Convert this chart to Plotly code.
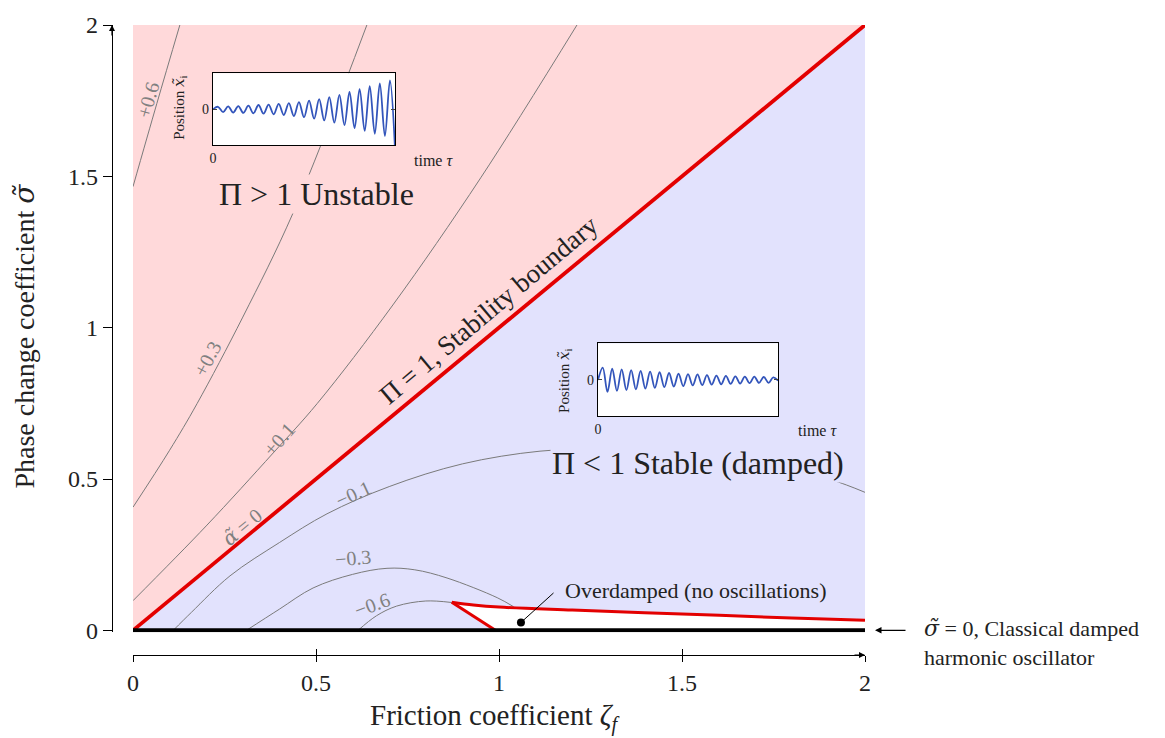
import plotly.graph_objects as go

# ---------------- data ----------------
tick_vals = [0, 0.5, 1, 1.5, 2]
tick_text = ["0", "0.5", "1", "1.5", "2"]

# stability boundary Pi = 1 (alpha = 0)
boundary_x = [0.0, 2.0]
boundary_y = [0.0, 2.0]

# alpha contours
c_p06_x = [0.0, 0.065, 0.128]
c_p06_y = [1.466, 1.74, 2.0]
c_p03_x = [0.0, 0.1, 0.175, 0.3, 0.437, 0.639]
c_p03_y = [0.407, 0.595, 0.749, 1.035, 1.378, 2.0]
c_p01_x = [0.0, 0.2, 0.383, 0.503, 0.71, 0.95, 1.213]
c_p01_y = [0.098, 0.345, 0.586, 0.749, 1.075, 1.495, 2.0]
c_m01_x = [0.11, 0.16, 0.265, 0.4, 0.53, 0.7, 0.9, 1.112, 1.3, 1.5, 1.7, 1.85, 1.95, 2.0]
c_m01_y = [0.0, 0.06, 0.18, 0.29, 0.385, 0.475, 0.55, 0.592, 0.6, 0.59, 0.565, 0.52, 0.48, 0.456]
c_m03_x = [0.31, 0.40, 0.492, 0.6, 0.694, 0.77, 0.858, 0.995, 1.04]
c_m03_y = [0.0, 0.07, 0.14, 0.185, 0.205, 0.2, 0.173, 0.108, 0.078]
c_m06_x = [0.615, 0.665, 0.72, 0.8, 0.871]
c_m06_y = [0.0, 0.048, 0.08, 0.097, 0.092]

# overdamped region boundary
od_upper_x = [0.871, 0.93, 1.0, 1.2, 1.5, 1.8, 2.0]
od_upper_y = [0.093, 0.084, 0.077, 0.067, 0.054, 0.041, 0.033]
od_lower_x = [0.871, 0.99]
od_lower_y = [0.093, 0.0]
od_dot_x = [1.06]
od_dot_y = [0.026]

# inset signals: successive extrema (half-cycle amplitudes) of the position
ins1_amp = [0, 0.07, -0.08, 0.08, -0.09, 0.09, -0.10, 0.10, -0.11, 0.12, -0.12, 0.13,
            -0.14, 0.15, -0.16, 0.17, -0.19, 0.20, -0.22, 0.24, -0.26, 0.28, -0.31,
            0.34, -0.37, 0.40, -0.44, 0.48, -0.52, 0.56, -0.60, 0.64, -0.68, 0.72,
            -0.74, 0.80, -1.10]
ins2_amp = [0, 0.34, -0.33, 0.31, -0.30, 0.29, -0.28, 0.27, -0.26, 0.25, -0.24, 0.23,
            -0.22, 0.21, -0.20, 0.19, -0.18, 0.17, -0.17, 0.16, -0.15, 0.15, -0.14,
            0.13, -0.13, 0.12, -0.12, 0.11, -0.11, 0.10, -0.10, 0.09, -0.09, 0.09,
            -0.08, 0.08, -0.08, 0.07, -0.02]

# ---------------- styling ----------------
FONT = "Liberation Serif"
PINK = "#FFD9DA"
BLUE = "#E2E2FD"
RED = "#E30000"
GRAY = "#7a7a7a"
LBL = "#808080"
SIG = "#3355bb"


def tl(s):
    """glyph with a combining tilde, rendered in a font that places it well"""
    return '<span style="font-family:DejaVu Serif">' + s + '</span>'


W, H = 1165, 738
ML, MR, MT, MB = 112, 300, 16, 83

fig = go.Figure()

# regions
fig.add_trace(go.Scatter(x=boundary_x + [boundary_x[0]], y=boundary_y + [boundary_y[-1]],
                         fill="toself", fillcolor=PINK, line=dict(width=0),
                         mode="lines", hoverinfo="skip"))
fig.add_trace(go.Scatter(x=boundary_x + [boundary_x[-1]], y=boundary_y + [boundary_y[0]],
                         fill="toself", fillcolor=BLUE, line=dict(width=0),
                         mode="lines", hoverinfo="skip"))
fig.add_trace(go.Scatter(x=od_upper_x + [od_upper_x[-1]] + od_lower_x[::-1],
                         y=od_upper_y + [0.0] + od_lower_y[::-1],
                         fill="toself", fillcolor="white", line=dict(width=0),
                         mode="lines", hoverinfo="skip"))

# contours
for cx, cy in [(c_p06_x, c_p06_y), (c_p03_x, c_p03_y), (c_p01_x, c_p01_y),
               (c_m01_x, c_m01_y), (c_m03_x, c_m03_y), (c_m06_x, c_m06_y)]:
    fig.add_trace(go.Scatter(x=cx, y=cy, mode="lines",
                             line=dict(color=GRAY, width=1, shape="spline", smoothing=1.0),
                             hoverinfo="skip"))

# stability boundary
fig.add_trace(go.Scatter(x=boundary_x, y=boundary_y, mode="lines",
                         line=dict(color=RED, width=3.8), hoverinfo="skip"))
# overdamped outline
fig.add_trace(go.Scatter(x=od_upper_x, y=od_upper_y, mode="lines",
                         line=dict(color=RED, width=3, shape="spline"), hoverinfo="skip"))
fig.add_trace(go.Scatter(x=od_lower_x, y=od_lower_y, mode="lines",
                         line=dict(color=RED, width=3), hoverinfo="skip"))
# sigma = 0 line
fig.add_trace(go.Scatter(x=[tick_vals[0], tick_vals[-1]], y=[0, 0], mode="lines",
                         line=dict(color="black", width=4), hoverinfo="skip"))
fig.add_trace(go.Scatter(x=od_dot_x, y=od_dot_y, mode="markers",
                         marker=dict(color="black", size=8), hoverinfo="skip"))

# helper trace for inside ticks on x axis
fig.add_trace(go.Scatter(x=[None], y=[None], xaxis="x2", yaxis="y", hoverinfo="skip"))

# insets
n1 = len(ins1_amp) - 1
n2 = len(ins2_amp) - 1
fig.add_trace(go.Scatter(x=[0, n1, n1, 0], y=[-1, -1, 1, 1], fill="toself",
                         fillcolor="rgba(255,255,255,0.82)", line=dict(width=0),
                         mode="lines", xaxis="x3", yaxis="y3", hoverinfo="skip"))
fig.add_trace(go.Scatter(x=list(range(len(ins1_amp))), y=ins1_amp, mode="lines",
                         line=dict(color=SIG, width=1.8, shape="spline", smoothing=1.0),
                         xaxis="x3", yaxis="y3", hoverinfo="skip"))
fig.add_trace(go.Scatter(x=[0, n2, n2, 0], y=[-1, -1, 1, 1], fill="toself",
                         fillcolor="rgba(255,255,255,0.82)", line=dict(width=0),
                         mode="lines", xaxis="x4", yaxis="y4", hoverinfo="skip"))
fig.add_trace(go.Scatter(x=list(range(len(ins2_amp))), y=ins2_amp, mode="lines",
                         line=dict(color=SIG, width=1.8, shape="spline", smoothing=1.0),
                         xaxis="x4", yaxis="y4", hoverinfo="skip"))

pw = W - ML - MR
ph = H - MT - MB
xdom0 = (133 - ML) / pw
ydom0 = (655 - 632) / ph

axis_common = dict(showgrid=False, zeroline=False, showline=True, linecolor="black",
                   linewidth=1.2, tickcolor="black", tickwidth=1.2,
                   tickfont=dict(family=FONT, size=24, color="#222"))

inset_common = dict(showgrid=False, zeroline=False, showline=True,
                    linecolor="black", linewidth=1.3,
                    tickfont=dict(family=FONT, size=14, color="#222"))

fig.update_layout(
    width=W, height=H,
    margin=dict(l=ML, r=MR, t=MT, b=MB),
    paper_bgcolor="white", plot_bgcolor="white",
    showlegend=False,
    xaxis=dict(domain=[xdom0, 1], range=[0, 2], anchor="free", position=0,
               ticks="outside", ticklen=6, tickvals=tick_vals, ticktext=tick_text,
               **axis_common),
    xaxis2=dict(overlaying="x", range=[0, 2], anchor="free", position=0,
                ticks="inside", ticklen=6, tickvals=tick_vals, showticklabels=False,
                showline=False, showgrid=False, zeroline=False, tickcolor="black",
                tickwidth=1.2),
    yaxis=dict(domain=[ydom0, 1], range=[-2 / 307, 2], anchor="free", position=0,
               ticks="outside", ticklen=9, tickvals=tick_vals, ticktext=tick_text,
               **axis_common),
    xaxis3=dict(domain=[(213 - ML) / pw, (395 - ML) / pw], range=[0, n1], anchor="y3",
                tickvals=[0], ticktext=["0"], ticks="", mirror=True, **inset_common),
    yaxis3=dict(domain=[(655 - 138) / ph, (655 - 65) / ph], range=[-1, 1], anchor="x3",
                tickvals=[0], ticktext=["0"], ticks="inside", ticklen=4, mirror="ticks",
                **inset_common),
    xaxis4=dict(domain=[(598 - ML) / pw, (778 - ML) / pw], range=[0, n2], anchor="y4",
                tickvals=[0], ticktext=["0"], ticks="", mirror=True, **inset_common),
    yaxis4=dict(domain=[(655 - 413) / ph, (655 - 339) / ph], range=[-1, 1], anchor="x4",
                tickvals=[0], ticktext=["0"], ticks="inside", ticklen=4, mirror="ticks",
                **inset_common),
)

ann = []


def txt(x, y, text, size, color="#222", angle=0, bg=None, xanchor="center", xref="x",
        yref="y", align="center"):
    d = dict(x=x, y=y, xref=xref, yref=yref, text=text, showarrow=False,
             textangle=angle, xanchor=xanchor, yanchor="middle", align=align,
             font=dict(family=FONT, size=size, color=color))
    if bg:
        d["bgcolor"] = bg
    ann.append(d)


# region labels
txt(0.5, 1.443, "Π > 1 Unstable", 32, bg=PINK)
txt(1.544, 0.554, "Π < 1 Stable (damped)", 32, bg=BLUE)
txt(0.972, 1.058, "Π = 1, Stability boundary", 27, angle=-40)

# contour labels
txt(0.041, 1.752, "+0.6", 20, color=LBL, angle=-74)
txt(0.202, 0.898, "+0.3", 20, color=LBL, angle=-62)
txt(0.40, 0.632, "+0.1", 20, color=LBL, angle=-48)
txt(0.298, 0.34, "<i>" + tl("α̃") + "</i> = 0", 20, color=LBL, angle=-40)
txt(0.601, 0.452, "−0.1", 20, color=LBL, angle=-25)
txt(0.601, 0.238, "−0.3", 20, color=LBL, angle=-5)
txt(0.652, 0.085, "−0.6", 20, color=LBL, angle=-20)

# overdamped
txt(1.175, 0.131, "Overdamped (no oscillations)", 22, xanchor="left")
ann.append(dict(x=od_dot_x[0], y=od_dot_y[0], xref="x", yref="y", ax=1.153, ay=0.128,
                axref="x", ayref="y", text="", showarrow=True, arrowhead=0,
                arrowwidth=1, arrowcolor="black"))

# sigma = 0 annotation
ann.append(dict(x=(875 - ML) / pw, y=0, xref="paper", yref="y", ax=32, ay=0, text="",
                showarrow=True, arrowhead=2, arrowsize=1, arrowwidth=1.3,
                arrowcolor="black"))
txt((922 - ML) / pw, (655 - 643) / ph,
    "<i>" + tl("σ̃") + "</i> = 0, Classical damped<br>harmonic oscillator", 22,
    xanchor="left", xref="paper", yref="paper", align="left")

# axis arrows
ann.append(dict(x=0, y=1, xref="paper", yref="paper", ax=0, ay=12, text="",
                showarrow=True, arrowhead=2, arrowsize=1, arrowwidth=1.2, arrowcolor="black"))
ann.append(dict(x=1, y=0, xref="paper", yref="paper", ax=-12, ay=0, text="",
                showarrow=True, arrowhead=2, arrowsize=1, arrowwidth=1.2, arrowcolor="black"))

# axis titles
txt((495 - ML) / pw, (655 - 718) / ph, "Friction coefficient <i>ζ<sub>f</sub></i>", 29,
    xref="paper", yref="paper")
txt((25 - ML) / pw, (655 - 332) / ph, "Phase change coefficient <i>" + tl("σ̃") + "</i>", 28,
    angle=-90, xref="paper", yref="paper")

# inset labels
txt((180 - ML) / pw, (655 - 100) / ph, "Position <i>" + tl("x̃") + "</i><sub>i</sub>", 15,
    angle=-90, xref="paper", yref="paper")
txt((433 - ML) / pw, (655 - 153) / ph, "time <i>τ</i>", 16, xref="paper", yref="paper")
txt((565 - ML) / pw, (655 - 377) / ph, "Position <i>" + tl("x̃") + "</i><sub>i</sub>", 15,
    angle=-90, xref="paper", yref="paper")
txt((817 - ML) / pw, (655 - 427) / ph, "time <i>τ</i>", 16, xref="paper", yref="paper")

fig.update_layout(annotations=ann)

fig.write_html("out.html")
